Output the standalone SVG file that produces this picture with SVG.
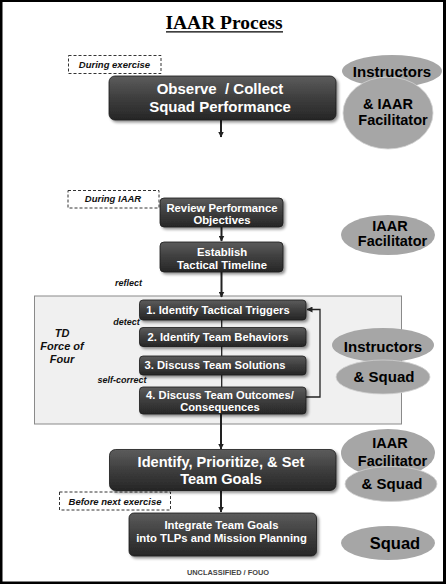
<svg xmlns="http://www.w3.org/2000/svg" width="446" height="584" viewBox="0 0 446 584">
  <defs>
    <linearGradient id="boxGrad" x1="0" y1="0" x2="0" y2="1">
      <stop offset="0" stop-color="#5c5c5c"/>
      <stop offset="0.5" stop-color="#3e3e3e"/>
      <stop offset="1" stop-color="#262626"/>
    </linearGradient>
    <filter id="shadow" x="-10%" y="-20%" width="125%" height="150%">
      <feGaussianBlur in="SourceAlpha" stdDeviation="1.5"/>
      <feOffset dx="1.5" dy="2" result="b"/>
      <feComponentTransfer><feFuncA type="linear" slope="0.45"/></feComponentTransfer>
      <feMerge><feMergeNode/><feMergeNode in="SourceGraphic"/></feMerge>
    </filter>
    <marker id="arrow" viewBox="0 0 6 6" refX="5.5" refY="3" markerWidth="6" markerHeight="6" markerUnits="userSpaceOnUse" orient="auto">
      <path d="M0,0 L6,3 L0,6 Z" fill="#222"/>
    </marker>
    <style>
      .box { fill: url(#boxGrad); stroke: #1a1a1a; stroke-width: 0.8; filter: url(#shadow); }
      .bt { font-family: "Liberation Sans", Arial, sans-serif; font-weight: bold; fill: #ffffff; text-anchor: middle; }
      .ell { fill: #a6a6a6; }
      .ell2 { fill: #a6a6a6; stroke: #d0d0d0; stroke-width: 0.8; }
      .et { font-family: "Liberation Sans", Arial, sans-serif; font-weight: bold; fill: #000; text-anchor: middle; font-size: 15px; }
      .et2 { font-family: "Liberation Sans", Arial, sans-serif; font-weight: bold; fill: #000; text-anchor: middle; font-size: 14.5px; }
      .dash { fill: #fff; stroke: #333; stroke-width: 1; stroke-dasharray: 3 2; }
      .it { font-family: "Liberation Sans", Arial, sans-serif; font-weight: bold; font-style: italic; fill: #111; }
      .conn { stroke: #222; stroke-width: 2; fill: none; }
      .conn1 { stroke: #222; stroke-width: 1.3; fill: none; }
    </style>
  </defs>

  <!-- frame -->
  <rect x="0" y="0" width="446" height="584" fill="#000"/>
  <rect x="2.5" y="2" width="440.5" height="579.5" fill="#fff"/>

  <!-- title -->
  <g id="title">
    <text x="224" y="28.5" font-family="Liberation Serif, Times New Roman, serif" font-weight="bold" font-size="19.5" text-anchor="middle" fill="#000">IAAR Process</text>
    <line x1="166" y1="31.8" x2="283" y2="31.8" stroke="#000" stroke-width="1.3"/>
  </g>

  <!-- container -->
  <g id="force-of-four">
    <rect x="34.5" y="296" width="367" height="128" fill="#f0f0f0" stroke="#8a8a8a" stroke-width="1"/>
    <text class="it" font-size="11" text-anchor="middle"><tspan x="62" y="337">TD</tspan><tspan x="62" y="350">Force of</tspan><tspan x="62" y="363">Four</tspan></text>
  </g>

  <!-- connectors -->
  <g id="connectors">
    <line class="conn" x1="221" y1="120" x2="221" y2="137" marker-end="url(#arrow)"/>
    <line class="conn" x1="221.5" y1="227" x2="221.5" y2="241" marker-end="url(#arrow)"/>
    <line class="conn" x1="221.5" y1="272" x2="221.5" y2="297" marker-end="url(#arrow)"/>
    <line class="conn1" x1="221.7" y1="320" x2="221.7" y2="328"/>
    <line class="conn1" x1="221.7" y1="346" x2="221.7" y2="356"/>
    <line class="conn1" x1="221.7" y1="375" x2="221.7" y2="387"/>
    <line class="conn" x1="221" y1="414" x2="221" y2="449" marker-end="url(#arrow)"/>
    <line class="conn" x1="221" y1="491" x2="221" y2="512" marker-end="url(#arrow)"/>
    <polyline class="conn1" points="306,397 320,397 320,309.5 307,309.5" marker-end="url(#arrow)"/>
    <text class="it" font-size="9" x="128.5" y="286" text-anchor="middle">reflect</text>
    <text class="it" font-size="9" x="126.5" y="325" text-anchor="middle">detect</text>
    <text class="it" font-size="9" x="122" y="383" text-anchor="middle">self-correct</text>
  </g>

  <!-- phase labels -->
  <g id="during-exercise">
    <rect class="dash" x="68.5" y="55.5" width="92.5" height="18"/>
    <text class="it" font-size="9.5" x="114.5" y="67.5" text-anchor="middle">During exercise</text>
  </g>
  <g id="during-iaar">
    <rect class="dash" x="68" y="190.5" width="91" height="17.5"/>
    <text class="it" font-size="9.5" x="113" y="202" text-anchor="middle">During IAAR</text>
  </g>
  <g id="before-next">
    <rect class="dash" x="59.5" y="492" width="111" height="18"/>
    <text class="it" font-size="9.5" x="115" y="504.5" text-anchor="middle">Before next exercise</text>
  </g>

  <!-- process boxes -->
  <g id="observe">
    <rect class="box" x="109" y="76" width="227" height="44" rx="6"/>
    <text class="bt" font-size="15"><tspan x="220" y="93.5">Observe&#160; / Collect</tspan><tspan x="220" y="111.5">Squad Performance</tspan></text>
  </g>
  <g id="review">
    <rect class="box" x="160" y="198" width="123" height="29" rx="4"/>
    <text class="bt" font-size="11.3"><tspan x="222" y="211.5">Review Performance</tspan><tspan x="222" y="224">Objectives</tspan></text>
  </g>
  <g id="establish">
    <rect class="box" x="160" y="242" width="123" height="30" rx="4"/>
    <text class="bt" font-size="11.3"><tspan x="222" y="256">Establish</tspan><tspan x="222" y="268.5">Tactical Timeline</tspan></text>
  </g>
  <g id="step1">
    <rect class="box" x="139.5" y="300" width="166.5" height="20" rx="3.5"/>
    <text class="bt" font-size="11.2" x="218" y="313.5">1. Identify Tactical Triggers</text>
  </g>
  <g id="step2">
    <rect class="box" x="139.5" y="327.5" width="166.5" height="19" rx="3.5"/>
    <text class="bt" font-size="11.2" x="218" y="340.5">2. Identify Team Behaviors</text>
  </g>
  <g id="step3">
    <rect class="box" x="139.5" y="356" width="166.5" height="19" rx="3.5"/>
    <text class="bt" font-size="11.2" x="215" y="369">3. Discuss Team Solutions</text>
  </g>
  <g id="step4">
    <rect class="box" x="139.5" y="387" width="166.5" height="27" rx="3.5"/>
    <text class="bt" font-size="11.2"><tspan x="220" y="398.5">4. Discuss Team Outcomes/</tspan><tspan x="220" y="411">Consequences</tspan></text>
  </g>
  <g id="identify-goals">
    <rect class="box" x="109.5" y="449.5" width="226.5" height="41" rx="6"/>
    <text class="bt" font-size="14.6"><tspan x="221" y="467">Identify, Prioritize, &amp; Set</tspan><tspan x="221" y="483.5">Team Goals</tspan></text>
  </g>
  <g id="integrate">
    <rect class="box" x="129" y="513" width="187.5" height="43" rx="5"/>
    <text class="bt" font-size="11.3"><tspan x="221.5" y="528.5">Integrate Team Goals</tspan><tspan x="221.5" y="542">into TLPs and Mission Planning</tspan></text>
  </g>

  <!-- role ellipses -->
  <g id="role-instructors-iaar">
    <ellipse class="ell" cx="392" cy="71" rx="50" ry="16"/>
    <ellipse class="ell2" cx="388" cy="113" rx="45" ry="36"/>
    <text class="et" x="392" y="77.3">Instructors</text>
    <text class="et2"><tspan x="388" y="109">&amp; IAAR</tspan><tspan x="393" y="124.5">Facilitator</tspan></text>
  </g>
  <g id="role-iaar-facilitator">
    <ellipse class="ell" cx="388" cy="235" rx="47" ry="20"/>
    <text class="et2"><tspan x="390" y="230.5">IAAR</tspan><tspan x="392.5" y="246">Facilitator</tspan></text>
  </g>
  <g id="role-instructors-squad">
    <ellipse class="ell" cx="383" cy="345" rx="51" ry="17"/>
    <ellipse class="ell2" cx="383" cy="377" rx="47" ry="17"/>
    <text class="et" x="383" y="351.7">Instructors</text>
    <text class="et" x="384" y="381.7">&amp; Squad</text>
  </g>
  <g id="role-iaar-squad">
    <ellipse class="ell" cx="388" cy="453" rx="47" ry="24"/>
    <ellipse class="ell2" cx="391" cy="484" rx="46" ry="17.5"/>
    <text class="et2"><tspan x="390" y="448">IAAR</tspan><tspan x="392.5" y="466">Facilitator</tspan></text>
    <text class="et" x="392" y="488.5">&amp; Squad</text>
  </g>
  <g id="role-squad">
    <ellipse class="ell" cx="388" cy="543" rx="47" ry="17"/>
    <text class="et" x="395" y="548.5" style="font-size:16.5px">Squad</text>
  </g>

  <text x="228" y="575" font-family="Liberation Sans, Arial, sans-serif" font-weight="bold" font-size="7.4" fill="#444" text-anchor="middle">UNCLASSIFIED / FOUO</text>
</svg>
